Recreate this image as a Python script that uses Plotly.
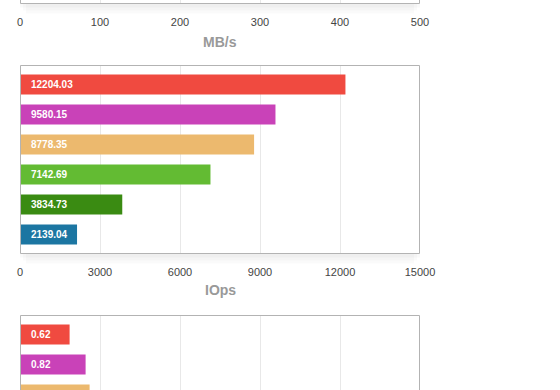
import plotly.graph_objects as go

# ---- data ----
systems = ["S1", "S2", "S3", "S4", "S5", "S6"]
colors = ["#F04A40", "#C942B8", "#ECB96E", "#63BB33", "#3A8B12", "#1C76A2"]

iops_values = [12204.03, 9580.15, 8778.35, 7142.69, 3834.73, 2139.04]
iops_labels = ["12204.03", "9580.15", "8778.35", "7142.69", "3834.73", "2139.04"]

lat_values = [0.62, 0.82, 0.87]
lat_labels = ["0.62", "0.82", "0.87"]

mbs_ticks = [0, 100, 200, 300, 400, 500]
iops_ticks = [0, 3000, 6000, 9000, 12000, 15000]

W, H = 560, 390


def px(x):
    return x / W


def py(y):
    return 1 - y / H


FONT = "Helvetica Neue, Helvetica, Arial, Liberation Sans, sans-serif"
GRID = "#e8e8e8"
FRAME = "#b3b3b3"

fig = go.Figure()

# top chart: only its bottom edge is in view, no bars visible
fig.add_trace(go.Bar(y=[], x=[], orientation="h", xaxis="x", yaxis="y", hoverinfo="skip"))
# middle chart (IOps)
fig.add_trace(go.Bar(
    y=systems, x=iops_values, orientation="h",
    marker=dict(color=colors, line=dict(width=0)),
    width=0.667, xaxis="x2", yaxis="y2", hoverinfo="skip",
))
# bottom chart (partially visible)
fig.add_trace(go.Bar(
    y=systems[:len(lat_values)], x=lat_values, orientation="h",
    marker=dict(color=colors[:len(lat_values)], line=dict(width=0)),
    width=0.667, xaxis="x3", yaxis="y3", hoverinfo="skip",
))

xdom = [px(20), px(420)]
tickfont = dict(family=FONT, size=11, color="#444444")

common_x = dict(
    domain=xdom, showgrid=True, gridcolor=GRID, gridwidth=1, zeroline=False,
    showline=False, ticks="outside", ticklen=8, tickcolor="rgba(0,0,0,0)",
    tickfont=tickfont, fixedrange=True, tickformat="d", automargin=False,
)
common_y = dict(showticklabels=False, showgrid=False, zeroline=False,
                showline=False, fixedrange=True, automargin=False, ticks="")

fig.update_layout(
    template="none",
    width=W, height=H, autosize=False,
    margin=dict(l=0, r=0, t=0, b=0, pad=0, autoexpand=False),
    paper_bgcolor="white", plot_bgcolor="rgba(0,0,0,0)",
    showlegend=False,
    font=dict(family=FONT),
    xaxis=dict(common_x, range=[0, 500], tickvals=mbs_ticks, anchor="y"),
    yaxis=dict(common_y, domain=[py(4), 1], range=[0, 1], anchor="x"),
    xaxis2=dict(common_x, range=[0, 15000], tickvals=iops_ticks, anchor="y2"),
    yaxis2=dict(common_y, type="category", domain=[py(254), py(65)],
                range=[5.65, -0.65], anchor="x2"),
    xaxis3=dict(common_x, range=[0, 5], dtick=1, showticklabels=False, anchor="y3"),
    yaxis3=dict(common_y, type="category", domain=[0, py(315)],
                range=[-0.65 + 75 / 30, -0.65], anchor="x3"),
)

# frames and their faint drop shadows
shapes = []
for top, bottom in [(-190, 3.5), (65.5, 253.5), (315.5, 503.5)]:
    for dx, depth, alpha in [(6, 10, 0.018), (3, 7, 0.02), (0, 4, 0.025)]:
        shapes.append(dict(type="rect", xref="paper", yref="paper",
                           x0=px(20 + dx), x1=px(420 - dx),
                           y0=py(bottom + depth), y1=py(bottom),
                           line=dict(width=0), fillcolor=f"rgba(0,0,0,{alpha})",
                           layer="below"))
    shapes.append(dict(type="rect", xref="paper", yref="paper",
                       x0=px(20.5), x1=px(419.5), y0=py(bottom), y1=py(top),
                       line=dict(color=FRAME, width=1), fillcolor="rgba(0,0,0,0)",
                       layer="above"))
fig.update_layout(shapes=shapes)

annotations = []
for s, lab in zip(systems, iops_labels):
    annotations.append(dict(x=0, y=s, xref="x2", yref="y2", text=lab, showarrow=False,
                            xanchor="left", yanchor="middle", xshift=9,
                            font=dict(family=FONT, size=10, color="white", weight="bold")))
for s, lab in zip(systems, lat_labels):
    annotations.append(dict(x=0, y=s, xref="x3", yref="y3", text=lab, showarrow=False,
                            xanchor="left", yanchor="middle", xshift=9,
                            font=dict(family=FONT, size=10, color="white", weight="bold")))
# axis titles
for title, ycen in [("MB/s", 42), ("IOps", 290)]:
    annotations.append(dict(x=px(220), y=py(ycen), xref="paper", yref="paper", text=title,
                            showarrow=False, xanchor="center", yanchor="middle",
                            font=dict(family=FONT, size=14, color="#999999", weight="bold")))
fig.update_layout(annotations=annotations)

fig.write_html(
    "out.html",
    config={"displayModeBar": False},
    post_script="document.body.style.margin='0';document.body.style.overflow='hidden';"
                "document.documentElement.style.overflow='hidden';",
)
